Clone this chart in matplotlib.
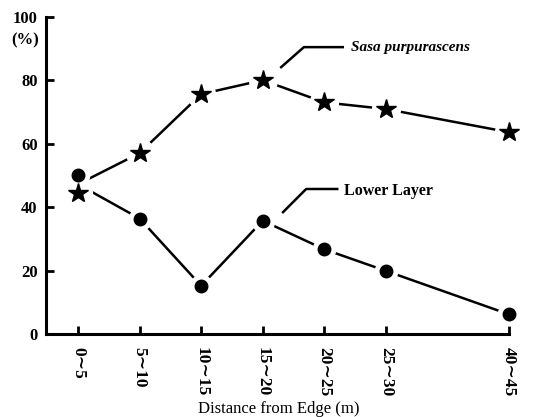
import matplotlib
matplotlib.use("Agg")
import matplotlib.pyplot as plt
from matplotlib.lines import Line2D

plt.rcParams['font.family'] = ['Liberation Serif', 'DejaVu Serif']

# data
distance_labels = ["0\u223c5", "5\u223c10", "10\u223c15", "15\u223c20", "20\u223c25", "25\u223c30", "40\u223c45"]
x_pos = [0, 1, 2, 3, 4, 5, 7]
sasa = [44.4, 57.0, 75.6, 80.0, 73.0, 70.9, 63.6]
lower = [50.0, 36.4, 15.2, 35.7, 26.7, 19.9, 6.2]

fig = plt.figure(figsize=(5.36, 4.17), dpi=100)
ax = fig.add_axes([0.0858, 0.199, 0.8638, 0.761])

# both lines start from a shared junction next to the first pair of markers
start = (sasa[0] + lower[0]) / 2
lw = 1.8
ax.plot(x_pos, [start] + sasa[1:], color='black', lw=lw, zorder=2)
ax.plot(x_pos, [start] + lower[1:], color='black', lw=lw, zorder=2)

# white halos give the little gaps where the lines meet the markers
ax.plot(x_pos, sasa, ls='none', marker='o', ms=20, mfc='white', mec='white', zorder=3, clip_on=False)
ax.plot(x_pos, lower, ls='none', marker='o', ms=16, mfc='white', mec='white', zorder=3, clip_on=False)
ax.plot(x_pos, sasa, ls='none', marker='*', ms=15, color='black', zorder=4, clip_on=False)
ax.plot(x_pos, lower, ls='none', marker='o', ms=9, color='black', zorder=4, clip_on=False)

ax.set_xlim(-0.52, 7)
ax.set_ylim(0, 100)
ax.set_xticks(x_pos)
ax.set_xticklabels(distance_labels, rotation=-90, fontsize=12.5, fontweight='bold')
ax.set_yticks([0, 20, 40, 60, 80, 100])
ax.set_yticklabels(['0', '20', '40', '60', '80', '100'], fontsize=12, fontweight='bold')
ax.tick_params(direction='in', length=6, width=2, pad=6)
ax.tick_params(axis='x', pad=9)
for side in ['top', 'right']:
    ax.spines[side].set_visible(False)
for side in ['left', 'bottom']:
    ax.spines[side].set_linewidth(2.2)

ax.set_xlabel("Distance from Edge (m)", fontsize=12, va='center')
ax.xaxis.set_label_coords(0.503, -0.236)
fig.text(0.047, 0.902, "(%)", fontsize=12, fontweight='bold', ha='center', va='center')

# leader lines for the two series
lead_kw = dict(color='black', lw=1.8, transform=ax.transAxes, clip_on=False)
ax.add_line(Line2D([0.508, 0.557, 0.641], [0.841, 0.904, 0.904], **lead_kw))
ax.text(0.659, 0.904, "Sasa purpurascens", transform=ax.transAxes, fontsize=11,
        style='italic', fontweight='bold', va='center', ha='left')
ax.add_line(Line2D([0.512, 0.562, 0.629], [0.384, 0.457, 0.457], **lead_kw))
ax.text(0.644, 0.452, "Lower Layer", transform=ax.transAxes, fontsize=11.5,
        fontweight='bold', va='center', ha='left')

fig.savefig("out.png", dpi=100)
